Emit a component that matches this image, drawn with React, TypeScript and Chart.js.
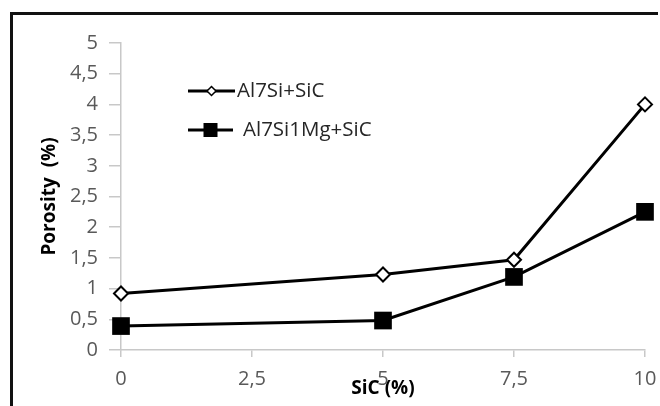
import React, { useEffect, useRef } from "react";
import { Chart, registerables } from "chart.js";

Chart.register(...registerables);

const sicPercent = [0, 5, 7.5, 10];
const al7SiSiC = [0.92, 1.23, 1.47, 4.0];
const al7Si1MgSiC = [0.39, 0.48, 1.19, 2.25];
const seriesNames = ["Al7Si+SiC", "Al7Si1Mg+SiC"];
const xTitle = "SiC (%)";
const yTitle = "Porosity  (%)";

const FONT = "'Open Sans', sans-serif";
const fmt = (v: number) => String(v).replace(".", ",");

const legendPlugin = {
  id: "lineLegend",
  afterDraw(chart: any) {
    const { ctx, chartArea } = chart;
    const x0 = chartArea.left + 67;
    const rows = [
      { y: chartArea.top + 48, lineEnd: 47, textX: 49, marker: "diamond" },
      { y: chartArea.top + 87, lineEnd: 45, textX: 55, marker: "square" },
    ];
    ctx.save();
    rows.forEach((r, i) => {
      ctx.strokeStyle = "#000";
      ctx.lineWidth = 3;
      ctx.beginPath();
      ctx.moveTo(x0, r.y);
      ctx.lineTo(x0 + r.lineEnd, r.y);
      ctx.stroke();
      const cx = x0 + r.lineEnd / 2;
      if (r.marker === "diamond") {
        const h = 4.5;
        ctx.beginPath();
        ctx.moveTo(cx - h, r.y);
        ctx.lineTo(cx, r.y - h);
        ctx.lineTo(cx + h, r.y);
        ctx.lineTo(cx, r.y + h);
        ctx.closePath();
        ctx.fillStyle = "#fff";
        ctx.fill();
        ctx.lineWidth = 1.5;
        ctx.stroke();
      } else {
        ctx.fillStyle = "#000";
        ctx.fillRect(cx - 7, r.y - 7, 14, 14);
      }
      ctx.fillStyle = "#262626";
      ctx.font = `20.5px ${FONT}`;
      ctx.textBaseline = "middle";
      ctx.textAlign = "left";
      ctx.fillText(seriesNames[i], x0 + r.textX, r.y);
    });
    ctx.restore();
  },
};

export default function App() {
  const ref = useRef<HTMLCanvasElement | null>(null);
  useEffect(() => {
    if (!ref.current) return;
    const chart = new Chart(ref.current, {
      type: "line",
      data: {
        datasets: [
          {
            label: seriesNames[0],
            data: sicPercent.map((x, i) => ({ x, y: al7SiSiC[i] })),
            borderColor: "#000",
            borderWidth: 3,
            pointStyle: "rectRot",
            pointRadius: 7,
            pointBackgroundColor: "#fff",
            pointBorderColor: "#000",
            pointBorderWidth: 2,
            tension: 0,
            clip: false,
          },
          {
            label: seriesNames[1],
            data: sicPercent.map((x, i) => ({ x, y: al7Si1MgSiC[i] })),
            borderColor: "#000",
            borderWidth: 3,
            pointStyle: "rect",
            pointRadius: 12.5,
            pointBackgroundColor: "#000",
            pointBorderColor: "#000",
            pointBorderWidth: 0,
            tension: 0,
            clip: false,
          },
        ],
      },
      options: {
        animation: false,
        responsive: false,
        devicePixelRatio: 1,
        layout: { padding: { left: 0, top: 43, right: 15, bottom: 0 } },
        plugins: { legend: { display: false }, tooltip: { enabled: false } },
        scales: {
          x: {
            type: "linear",
            min: 0,
            max: 10,
            afterFit: (s: any) => {
              s.height = 56;
              s.paddingLeft = 0;
              s.paddingRight = 0;
            },
            border: { color: "#c8c8c8", width: 1.5 },
            grid: { drawOnChartArea: false, tickLength: 7, color: "#c8c8c8", lineWidth: 1.5 },
            ticks: {
              stepSize: 2.5,
              padding: 10,
              color: "#595959",
              font: { family: FONT, size: 20 },
              maxRotation: 0,
              callback: (v: any) => fmt(Number(v)),
            },
            title: {
              display: true,
              text: xTitle,
              color: "#000",
              font: { family: FONT, size: 19, weight: "bold" },
              padding: { top: 0, bottom: 6 },
            },
          },
          y: {
            min: 0,
            max: 5,
            afterFit: (s: any) => {
              s.width = 121;
              s.paddingTop = 0;
              s.paddingBottom = 0;
            },
            border: { color: "#c8c8c8", width: 1.5 },
            grid: { drawOnChartArea: false, tickLength: 12, color: "#c8c8c8", lineWidth: 1.5 },
            ticks: {
              stepSize: 0.5,
              padding: 11,
              color: "#595959",
              font: { family: FONT, size: 20 },
              callback: (v: any) => fmt(Number(v)),
            },
            title: {
              display: true,
              text: yTitle,
              color: "#000",
              font: { family: FONT, size: 19, weight: "bold" },
              padding: { top: 38, bottom: 0 },
            },
          },
        },
      },
      plugins: [legendPlugin],
    } as any);
    return () => chart.destroy();
  }, []);

  return (
    <div
      style={{
        position: "fixed",
        left: 0,
        top: 0,
        width: 660,
        height: 406,
        overflow: "hidden",
        background: "#fff",
      }}
    >
      <div
        style={{
          position: "absolute",
          left: 10,
          top: 12,
          width: 648,
          height: 3,
          background: "#111",
        }}
      />
      <div
        style={{
          position: "absolute",
          left: 10,
          top: 12,
          width: 3,
          height: 394,
          background: "#111",
        }}
      />
      <canvas
        ref={ref}
        width={660}
        height={406}
        style={{ position: "absolute", left: 0, top: 0, width: 660, height: 406 }}
      />
    </div>
  );
}
